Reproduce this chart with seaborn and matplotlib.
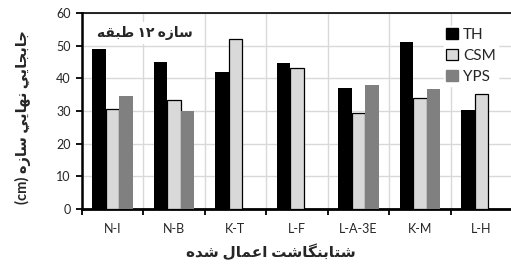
import numpy as np
import pandas as pd
import matplotlib
matplotlib.use('Agg')
import matplotlib.pyplot as plt
from matplotlib.patches import Patch
import seaborn as sns

sns.set_style('white')
plt.rcParams['font.family'] = ['Lato', 'DejaVu Sans']

# values
records = ['N-I', 'N-B', 'K-T', 'L-F', 'L-A-3E', 'K-M', 'L-H']
th = [49.0, 45.1, 42.0, 44.8, 37.1, 51.1, 30.4]
csm = [30.5, 33.4, 52.2, 43.2, 29.3, 34.0, 35.3]
yps = [34.5, 30.0, np.nan, np.nan, 37.9, 36.9, np.nan]
methods = ['TH', 'CSM', 'YPS']
colors = ['#000000', '#d9d9d9', '#808080']

ylabel_txt = 'جابجايي نهايي سازه (cm)'
xlabel_txt = 'شتابنگاشت اعمال شده'
note_txt = 'سازه ۱۲ طبقه'

# matplotlib has no arabic shaping, so pick the joined glyph forms by hand
# (iso, final, initial, medial) ; None -> letter does not join to the next one
FORMS = {
    'ا': ('\ufe8d', '\ufe8e', None, None),
    'ب': ('\ufe8f', '\ufe90', '\ufe91', '\ufe92'),
    'ت': ('\ufe95', '\ufe96', '\ufe97', '\ufe98'),
    'ج': ('\ufe9d', '\ufe9e', '\ufe9f', '\ufea0'),
    'د': ('\ufea9', '\ufeaa', None, None),
    'ز': ('\ufeaf', '\ufeb0', None, None),
    'س': ('\ufeb1', '\ufeb2', '\ufeb3', '\ufeb4'),
    'ش': ('\ufeb5', '\ufeb6', '\ufeb7', '\ufeb8'),
    'ط': ('\ufec1', '\ufec2', '\ufec3', '\ufec4'),
    'ع': ('\ufec9', '\ufeca', '\ufecb', '\ufecc'),
    'ق': ('\ufed5', '\ufed6', '\ufed7', '\ufed8'),
    'ل': ('\ufedd', '\ufede', '\ufedf', '\ufee0'),
    'م': ('\ufee1', '\ufee2', '\ufee3', '\ufee4'),
    'ن': ('\ufee5', '\ufee6', '\ufee7', '\ufee8'),
    'ه': ('\ufee9', '\ufeea', '\ufeeb', '\ufeec'),
    'ي': ('\ufef1', '\ufef2', '\ufef3', '\ufef4'),
    'گ': ('\ufb92', '\ufb93', '\ufb94', '\ufb95'),
}


def shape_word(w):
    out = []
    for i, ch in enumerate(w):
        f = FORMS.get(ch)
        if f is None:
            out.append(ch)
            continue
        prev = w[i - 1] if i > 0 else ''
        nxt = w[i + 1] if i < len(w) - 1 else ''
        jp = prev in FORMS and FORMS[prev][2] is not None
        jn = f[2] is not None and nxt in FORMS
        if jp and jn:
            out.append(f[3])
        elif jp:
            out.append(f[1])
        elif jn:
            out.append(f[2])
        else:
            out.append(f[0])
    return ''.join(out)


def rtl(text):
    toks = text.split(' ')
    vis = []
    for t in reversed(toks):
        if any(c in FORMS for c in t):
            vis.append(shape_word(t)[::-1])
        else:
            vis.append(t)
    return ' '.join(vis)


df = pd.DataFrame({
    'record': records * 3,
    'method': [m for m in methods for _ in records],
    'disp': th + csm + yps,
})

fig = plt.figure(figsize=(5.11, 2.67), dpi=100)
ax = fig.add_axes([0.160, 0.217, 0.842, 0.734])

sns.barplot(data=df, x='record', y='disp', hue='method', hue_order=methods,
            order=records, palette=colors, width=0.66, errorbar=None,
            saturation=1, linewidth=0, ax=ax, legend=False, zorder=3)
for p in ax.containers[1]:
    p.set_edgecolor('black')
    p.set_linewidth(0.9)

ax.set_ylim(0, 60)
ax.set_xlim(-0.5, len(records) - 0.5)
ax.set_yticks(range(0, 61, 10))
ax.set_xticks(np.arange(-0.5, len(records), 1), minor=True)
ax.grid(True, axis='y', color='#d9d9d9', linewidth=1, zorder=0)
ax.grid(True, axis='x', which='minor', color='#d9d9d9', linewidth=1, zorder=0)
ax.set_axisbelow(True)

ax.tick_params(axis='y', which='major', direction='out', length=4, width=1.3,
               color='black', left=True, labelsize=9, pad=4)
ax.tick_params(axis='x', which='major', length=0, labelsize=9, pad=10)
ax.tick_params(axis='x', which='minor', direction='out', length=4, width=1.3,
               color='black', bottom=True)

for s in ['left', 'bottom', 'top']:
    ax.spines[s].set_color('black')
ax.spines['left'].set_linewidth(1.8)
ax.spines['bottom'].set_linewidth(2)
ax.spines['top'].set_linewidth(1.2)
ax.spines['right'].set_visible(False)

ax.set_ylabel(rtl(ylabel_txt), fontsize=10.5, fontweight='bold')
ax.yaxis.set_label_coords(-0.118, 0.47)
ax.set_xlabel(rtl(xlabel_txt), fontsize=11, fontweight='bold')
ax.xaxis.set_label_coords(0.44, -0.175)

ax.text(0.147, 0.9, rtl(note_txt), transform=ax.transAxes, fontsize=10,
        fontweight='bold', ha='center', va='center', zorder=5,
        bbox=dict(facecolor='white', edgecolor='none', pad=3))

handles = [Patch(facecolor=colors[0], edgecolor=colors[0]),
           Patch(facecolor=colors[1], edgecolor='black', linewidth=0.9),
           Patch(facecolor=colors[2], edgecolor=colors[2])]
leg = ax.legend(handles, methods, loc='upper right', bbox_to_anchor=(0.985, 0.975),
                frameon=True, fancybox=False, fontsize=11, handlelength=0.75,
                handleheight=0.75, handletextpad=0.35, labelspacing=0.45,
                borderpad=0.15)
leg.get_frame().set_edgecolor('white')
leg.get_frame().set_facecolor('white')
leg.get_frame().set_alpha(1)
leg.set_zorder(6)

fig.savefig('out.png', dpi=100)
